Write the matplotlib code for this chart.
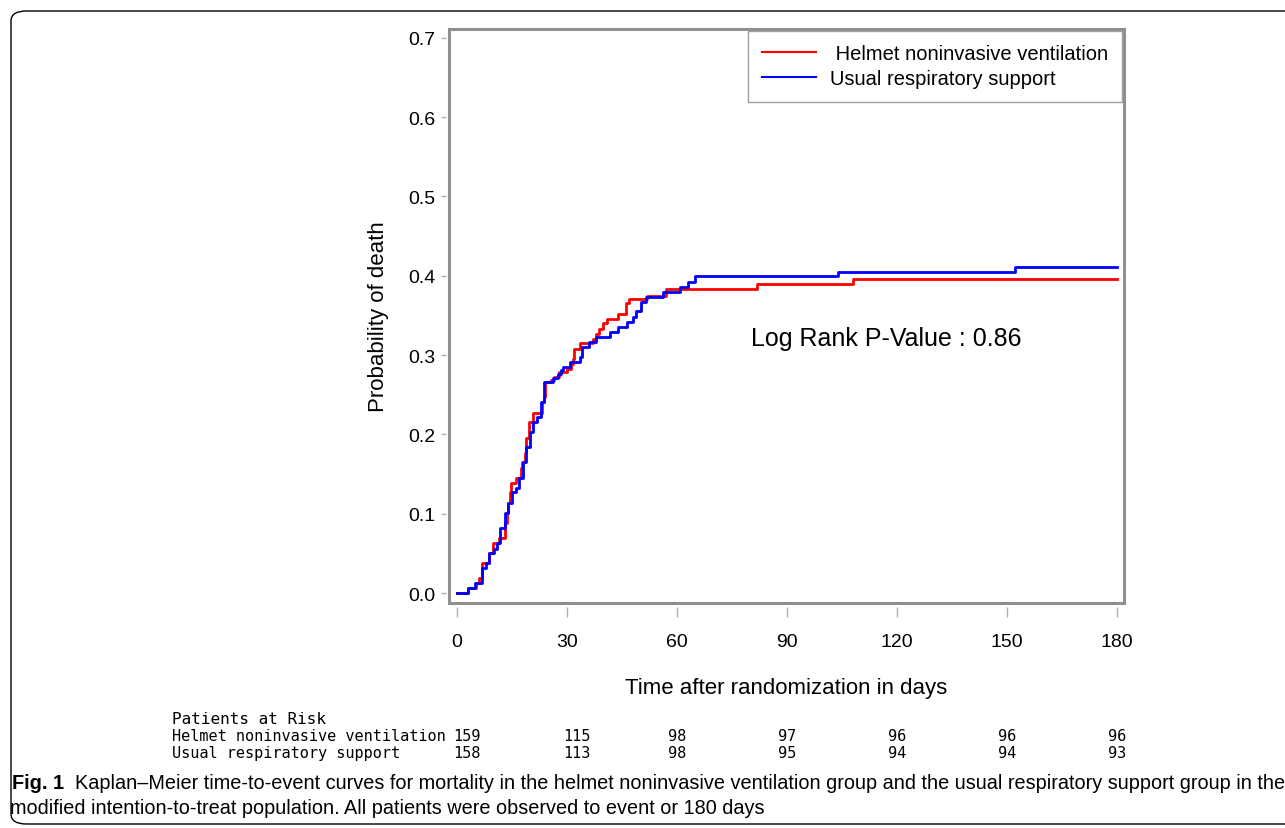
import matplotlib
matplotlib.use("Agg")
import matplotlib.pyplot as plt
from matplotlib.patches import FancyBboxPatch
from matplotlib import font_manager
import matplotlib.transforms as mtransforms

# ---------------- data ----------------
helmet_t = [0, 2.9, 5.2, 6.1, 6.8, 8.8, 9.9, 11.5, 13.2, 13.6, 14.0, 14.4, 14.7, 16.2, 17.4,
            17.7, 18.6, 18.9, 19.7, 20.8, 23.1, 23.6, 24.0, 25.5, 26.5, 27.8, 30.1, 31.0, 31.5,
            31.9, 33.5, 37.0, 37.9, 38.8, 39.9, 41.0, 44.0, 46.1, 46.9, 51.7, 57.0, 81.7, 107.9, 180]
helmet_p = [0, .006, .013, .019, .038, .051, .063, .069, .088, .101, .114, .127, .139, .145, .158,
            .165, .177, .196, .215, .227, .241, .247, .266, .268, .272, .278, .283, .289, .295,
            .308, .315, .320, .327, .333, .340, .346, .352, .365, .371, .375, .383, .389, .396, .396]

usual_t = [0, 2.9, 4.8, 6.9, 7.8, 8.8, 10.2, 10.8, 11.7, 13.0, 13.9, 14.9, 16.2, 17.0, 17.9,
           18.8, 19.9, 20.8, 21.7, 22.9, 23.8, 26.1, 27.4, 28.3, 28.8, 30.8, 33.5, 34.2, 36.0,
           37.8, 41.7, 44.0, 46.3, 47.9, 48.8, 50.1, 51.5, 56.1, 60.8, 63.1, 64.9, 104.0, 152.2, 180]
usual_p = [0, .006, .013, .031, .038, .051, .056, .063, .082, .101, .114, .127, .133, .145, .165,
           .184, .203, .216, .222, .241, .266, .271, .276, .281, .285, .291, .298, .310, .316,
           .323, .329, .335, .342, .348, .355, .367, .373, .379, .386, .392, .399, .405, .411, .411]

series_labels = [" Helmet noninvasive ventilation", "Usual respiratory support"]
risk_labels = ["Helmet noninvasive ventilation", "Usual respiratory support"]
risk_times = [0, 30, 60, 90, 120, 150, 180]
risk_helmet = [159, 115, 98, 97, 96, 96, 96]
risk_usual = [158, 113, 98, 95, 94, 94, 93]
x_ticks = [0, 30, 60, 90, 120, 150, 180]
y_ticks = [0.0, 0.1, 0.2, 0.3, 0.4, 0.5, 0.6, 0.7]
pvalue_text = "Log Rank P-Value : 0.86"
caption_bold = "Fig. 1"
caption_line1 = ("Kaplan\u2013Meier time-to-event curves for mortality in the helmet noninvasive "
                 "ventilation group and the usual respiratory support group in the")
caption_line2 = ("modified intention-to-treat population. All patients were observed to event "
                 "or 180 days")

# ---------------- figure ----------------
W, H = 1285, 829
fig = plt.figure(figsize=(W / 100, H / 100), dpi=100)
plt.rcParams['font.family'] = ['Liberation Sans', 'DejaVu Sans']

frame_gray = '#8f8f8f'
ax = fig.add_axes([449 / W, 1 - 604 / H, (1124 - 449) / W, (604 - 30) / H])
ax.set_xlim(-2.2, 181.9)
ax.set_ylim(-0.0126, 0.711)

ax.step(helmet_t, helmet_p, where='post', color='#ff0000', lw=2.0, label=series_labels[0])
ax.step(usual_t, usual_p, where='post', color='#0000ff', lw=2.0, label=series_labels[1])

# frame
for s in ax.spines.values():
    s.set_visible(False)
frame = plt.Rectangle((0, 0), 1, 1, transform=ax.transAxes, fill=False,
                      edgecolor=frame_gray, lw=2.2, zorder=5, clip_on=False)
ax.add_patch(frame)
ax.spines['left'].set_visible(True)
ax.spines['bottom'].set_visible(True)
ax.spines['left'].set_color('none')
ax.spines['bottom'].set_color('none')
ax.spines['left'].set_position(('outward', 2))
ax.spines['bottom'].set_position(('outward', 3))

ax.set_xticks(x_ticks)
ax.set_xticklabels([str(v) for v in x_ticks])
ax.set_yticks(y_ticks)
ax.set_yticklabels([f"{v:.1f}" for v in y_ticks])
ax.tick_params(axis='x', length=7.5, width=1.0, color='#b0b0b0', labelsize=14, pad=11)
ax.tick_params(axis='y', length=3.5, width=1.0, color='#b0b0b0', labelsize=14, pad=4)

ax.set_xlabel("Time after randomization in days", fontsize=16, labelpad=19.5)
ax.set_ylabel("Probability of death", fontsize=16, labelpad=14)

ax.text(80.2, 0.321, pvalue_text, fontsize=18, ha='left', va='center')

leg = ax.legend(loc='upper right', bbox_to_anchor=(0.997, 0.997), fontsize=14.5,
                frameon=True, fancybox=False, edgecolor='#a0a0a0', framealpha=1,
                handlelength=2.7, handletextpad=0.7, labelspacing=0.3, borderpad=0.68,
                borderaxespad=0)
leg.get_frame().set_linewidth(1.0)
for line in leg.get_lines():
    line.set_linewidth(1.5)

# ---------------- risk table ----------------
mono = ['DejaVu Sans Mono']
fig.text(172 / W, 1 - 720 / H, "Patients at Risk", fontsize=11.5, family=mono, va='center', ha='left')
trans = mtransforms.blended_transform_factory(ax.transData, fig.transFigure)
for row, (lab, vals) in enumerate(zip(risk_labels, [risk_helmet, risk_usual])):
    yy = 1 - (737 + 16.5 * row) / H
    fig.text(172 / W, yy, lab, fontsize=11, family=mono, va='center', ha='left')
    for t, v in zip(risk_times, vals):
        if v >= 100:
            off = mtransforms.offset_copy(trans, fig=fig, x=-4, y=0, units='dots')
            ax.text(t, yy, str(v), transform=off, fontsize=11, family=mono,
                    va='center', ha='left', clip_on=False)
        else:
            ax.text(t, yy, str(v), transform=trans, fontsize=11, family=mono,
                    va='center', ha='center', clip_on=False)

# ---------------- caption ----------------
names = {f.name for f in font_manager.fontManager.ttflist}
cap_family = ['Liberation Sans Narrow'] if 'Liberation Sans Narrow' in names else ['Liberation Sans']
cap_fs = 13
fb = fig.text(12 / W, 1 - 784 / H, caption_bold, fontsize=13, fontweight='bold',
              family=cap_family, va='center', ha='left')
t1 = fig.text(75 / W, 1 - 784 / H, caption_line1, fontsize=cap_fs, family=cap_family,
              va='center', ha='left')
t2 = fig.text(10 / W, 1 - 809 / H, caption_line2, fontsize=cap_fs, family=cap_family,
              va='center', ha='left')
fig.canvas.draw()
r = fig.canvas.get_renderer()
w1 = t1.get_window_extent(r).width
scale = (1275 - 75) / w1
t1.set_fontsize(cap_fs * scale)
t2.set_fontsize(cap_fs * scale)
fb.set_fontsize(13 * min(scale, 1.25))

box = FancyBboxPatch((11 / W, 4 / H), (1320 - 11) / W, (829 - 12 - 4) / H,
                     boxstyle="round,pad=0,rounding_size=0.012", transform=fig.transFigure,
                     fill=False, edgecolor='black', lw=1.0)
fig.patches.append(box)

fig.savefig("out.png", dpi=100)
